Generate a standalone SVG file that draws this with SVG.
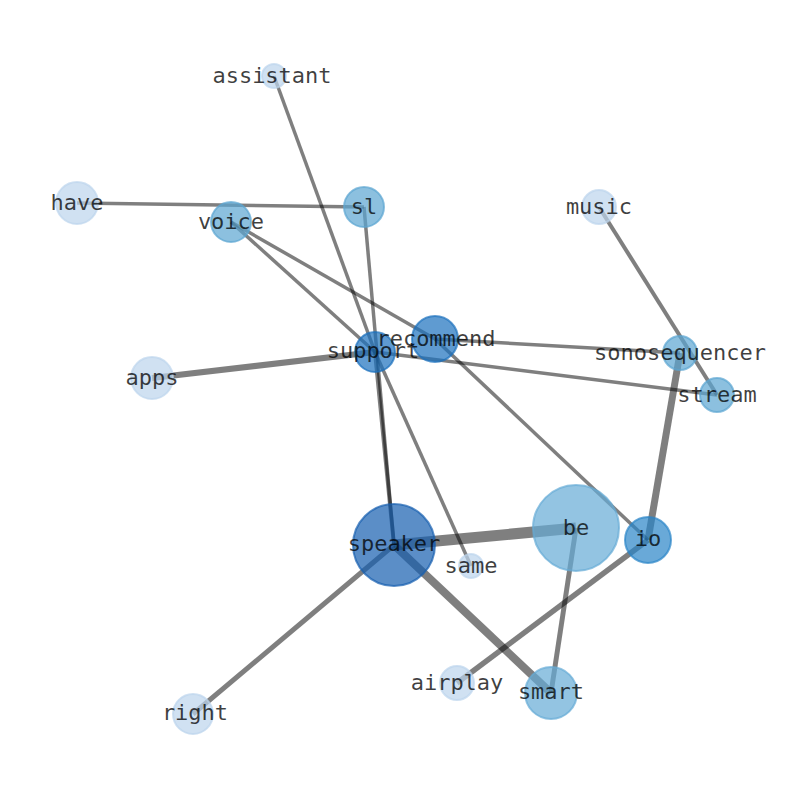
<svg xmlns="http://www.w3.org/2000/svg" width="794" height="790" viewBox="0 0 794 790">
<style>
.e{stroke:#000;stroke-opacity:0.5;fill:none;stroke-linecap:butt}
.n{fill-opacity:0.7;stroke-opacity:0.7;stroke-width:2}
.l{font-family:"DejaVu Sans Mono",monospace;font-size:22px;fill:#000;fill-opacity:0.75;text-anchor:middle}
.c1{fill:#bcd4ec;stroke:#bcd4ec}
.c2{fill:#5ba5d1;stroke:#5ba5d1}
.c3{fill:#65abd6;stroke:#65abd6}
.c4{fill:#2a84c7;stroke:#2a84c7}
.c5{fill:#1b70bd;stroke:#1b70bd}
.c6{fill:#155eaf;stroke:#155eaf}
</style>
<rect width="794" height="790" fill="#fff"/>
<g id="connectors">
<line class="e" x1="394" y1="545" x2="576" y2="528" stroke-width="11"/>
<line class="e" x1="394" y1="545" x2="551" y2="693" stroke-width="8"/>
<line class="e" x1="648" y1="540" x2="680" y2="353" stroke-width="7"/>
<line class="e" x1="152" y1="378" x2="375" y2="352" stroke-width="6"/>
<line class="e" x1="648" y1="540" x2="457" y2="683" stroke-width="5.5"/>
<line class="e" x1="394" y1="545" x2="193" y2="714" stroke-width="5"/>
<line class="e" x1="576" y1="528" x2="551" y2="693" stroke-width="5"/>
<line class="e" x1="375" y1="352" x2="394" y2="545" stroke-width="4"/>
<line class="e" x1="364" y1="207" x2="394" y2="545" stroke-width="3.5"/>
<line class="e" x1="599" y1="207" x2="717" y2="395" stroke-width="4"/>
<line class="e" x1="77" y1="203" x2="364" y2="207" stroke-width="3.5"/>
<line class="e" x1="274" y1="76" x2="375" y2="352" stroke-width="3.5"/>
<line class="e" x1="231" y1="222" x2="375" y2="352" stroke-width="3.5"/>
<line class="e" x1="231" y1="222" x2="435" y2="339" stroke-width="3.5"/>
<line class="e" x1="435" y1="339" x2="648" y2="540" stroke-width="3.5"/>
<line class="e" x1="435" y1="339" x2="680" y2="353" stroke-width="3.5"/>
<line class="e" x1="375" y1="352" x2="717" y2="395" stroke-width="3.5"/>
<line class="e" x1="375" y1="352" x2="471" y2="566" stroke-width="3.5"/>
</g>
<g id="nodes">
<g id="node-assistant"><circle class="n c1" cx="274" cy="76" r="12"/></g>
<g id="node-have"><circle class="n c1" cx="77" cy="203" r="21"/></g>
<g id="node-voice"><circle class="n c2" cx="231" cy="222" r="20"/></g>
<g id="node-sl"><circle class="n c2" cx="364" cy="207" r="20"/></g>
<g id="node-music"><circle class="n c1" cx="599" cy="207" r="17"/></g>
<g id="node-apps"><circle class="n c1" cx="152" cy="378" r="21"/></g>
<g id="node-support"><circle class="n c5" cx="375" cy="352" r="20"/></g>
<g id="node-recommend"><circle class="n c5" cx="435" cy="339" r="23"/></g>
<g id="node-sonosequencer"><circle class="n c2" cx="680" cy="353" r="17"/></g>
<g id="node-stream"><circle class="n c2" cx="717" cy="395" r="17"/></g>
<g id="node-speaker"><circle class="n c6" cx="394" cy="545" r="41"/></g>
<g id="node-be"><circle class="n c3" cx="576" cy="528" r="43"/></g>
<g id="node-io"><circle class="n c4" cx="648" cy="540" r="23"/></g>
<g id="node-same"><circle class="n c1" cx="471" cy="566" r="12"/></g>
<g id="node-airplay"><circle class="n c1" cx="457" cy="683" r="17"/></g>
<g id="node-smart"><circle class="n c3" cx="551" cy="693" r="26"/></g>
<g id="node-right"><circle class="n c1" cx="193" cy="714" r="20"/></g>
</g>
<g id="labels">
<text class="l" x="272" y="83">assistant</text>
<text class="l" x="77" y="210">have</text>
<text class="l" x="231" y="229">voice</text>
<text class="l" x="364" y="214">sl</text>
<text class="l" x="599" y="214">music</text>
<text class="l" x="152" y="385">apps</text>
<text class="l" x="373" y="358">support</text>
<text class="l" x="436" y="346">recommend</text>
<text class="l" x="680" y="360">sonosequencer</text>
<text class="l" x="717" y="402">stream</text>
<text class="l" x="394" y="551">speaker</text>
<text class="l" x="576" y="535">be</text>
<text class="l" x="648" y="546">io</text>
<text class="l" x="471" y="573">same</text>
<text class="l" x="457" y="690">airplay</text>
<text class="l" x="551" y="699">smart</text>
<text class="l" x="195" y="720">right</text>
</g>
</svg>
